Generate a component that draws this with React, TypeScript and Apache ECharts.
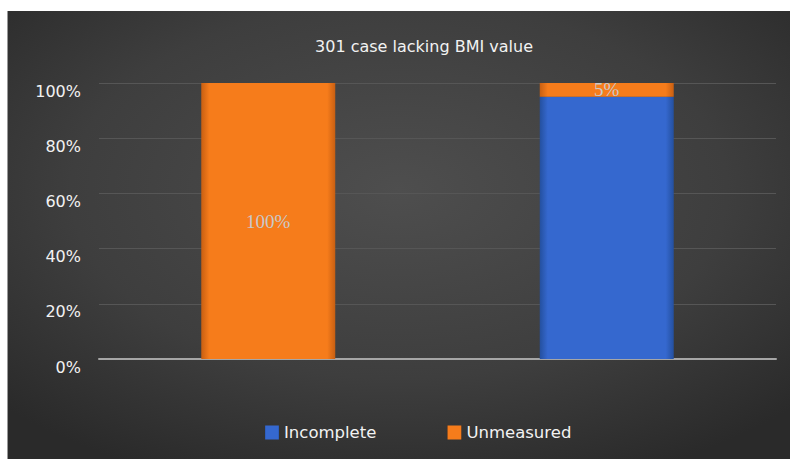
import React, { useEffect, useRef } from "react";
import * as echarts from "echarts";

const categories = ["A", "B"];
const incomplete = [0, 95];
const unmeasured = [100, 5];
const yTicks = [0, 20, 40, 60, 80, 100];

export default function App() {
  const ref = useRef<HTMLDivElement>(null);
  useEffect(() => {
    document.body.style.margin = "0";
    const chart = echarts.init(ref.current!, undefined, { renderer: "svg" });
    const font = "DejaVu Sans";
    const hGrad = (edge: string, mid: string) =>
      new echarts.graphic.LinearGradient(0, 0, 1, 0, [
        { offset: 0, color: edge },
        { offset: 0.06, color: mid },
        { offset: 0.94, color: mid },
        { offset: 1, color: edge },
      ]);
    chart.setOption({
      animation: false,
      backgroundColor: new echarts.graphic.RadialGradient(0.5, 0.4, 0.7, [
        { offset: 0, color: "#4e4e4e" },
        { offset: 0.6, color: "#3e3e3e" },
        { offset: 1, color: "#2a2a2a" },
      ]),
      title: {
        text: "301 case lacking BMI value",
        left: 411,
        top: 22,
        textAlign: "center",
        textStyle: { color: "#f2f2f2", fontFamily: font, fontSize: 16, fontWeight: "normal" },
      },
      legend: {
        left: 252,
        top: 408,
        itemWidth: 14,
        itemHeight: 14,
        itemGap: 71,
        icon: "rect",
        textStyle: { color: "#f2f2f2", fontFamily: font, fontSize: 16.5 },
        data: ["Incomplete", "Unmeasured"],
      },
      grid: { left: 91, right: 14, top: 72, bottom: 100 },
      xAxis: {
        type: "category",
        data: categories,
        axisLabel: { show: false },
        axisTick: { show: false },
        axisLine: { show: true, lineStyle: { color: "#a6a6a6", width: 2 } },
      },
      yAxis: {
        type: "value",
        min: 0,
        max: 100,
        interval: 20,
        axisLabel: {
          formatter: (v: number) => (yTicks.includes(v) ? v + "%" : ""),
          color: "#f2f2f2",
          fontFamily: font,
          fontSize: 16,
          margin: 18,
          verticalAlign: "top",
        },
        splitLine: { lineStyle: { color: "#565656", width: 1 } },
        axisLine: { show: false },
        axisTick: { show: false },
      },
      series: [
        {
          name: "Incomplete",
          type: "bar",
          stack: "s",
          barWidth: 134,
          data: incomplete.map((v) => (v === 0 ? null : v)),
          itemStyle: { color: hGrad("#24509f", "#3568cf") },
          label: { show: false },
        },
        {
          name: "Unmeasured",
          type: "bar",
          stack: "s",
          barWidth: 134,
          data: unmeasured,
          itemStyle: { color: hGrad("#c85f12", "#f67c1b") },
          label: {
            show: true,
            position: "inside",
            formatter: "{c}%",
            color: "#c9c9c9",
            fontFamily: "Liberation Serif",
            fontSize: 19,
          },
        },
      ],
    });
    return () => chart.dispose();
  }, []);
  return (
    <div style={{ position: "relative", width: 790, height: 459, background: "#fff" }}>
      <div
        ref={ref}
        style={{ position: "absolute", left: 7, top: 11, width: 783, height: 448, borderLeft: "1px solid #999", boxSizing: "border-box" }}
      />
    </div>
  );
}
